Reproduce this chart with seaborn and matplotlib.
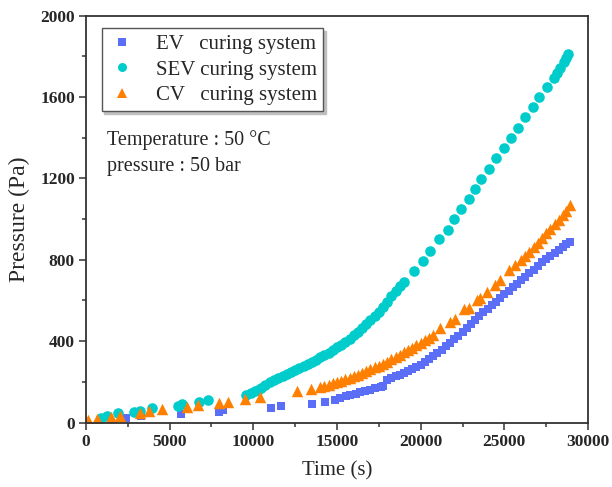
import numpy as np
import pandas as pd
import matplotlib
matplotlib.use('Agg')
import matplotlib.pyplot as plt
import seaborn as sns
from matplotlib.ticker import MultipleLocator
from matplotlib.lines import Line2D

# EV curing system (blue squares)
ev_time = [2410, 3300, 5650, 7970, 8210, 11040, 11630, 13480, 14280, 14870,
           15200, 15510, 15800, 16110, 16400, 16700, 17000, 17300, 17600, 17750,
           18000, 18250, 18500, 18750, 19000, 19250, 19500, 19750, 20000, 20250,
           20500, 20750, 21000, 21250, 21500, 21750, 22000, 22250, 22500, 22750,
           23000, 23250, 23500, 23750, 24000, 24250, 24500, 24750, 25000, 25250,
           25500, 25750, 26000, 26250, 26500, 26750, 27000, 27250, 27500, 27750,
           28000, 28250, 28500, 28700, 28900]
ev_pres = [21, 30, 41, 51, 62, 71, 79, 90, 100, 112,
           120, 128, 134, 141, 148, 155, 162, 170, 177, 181,
           209, 218, 228, 236, 245, 253, 262, 273, 285, 297,
           310, 325, 340, 357, 375, 392, 410, 427, 445, 465,
           485, 505, 525, 542, 560, 577, 595, 612, 630, 647,
           665, 682, 700, 717, 735, 752, 770, 787, 805, 820,
           835, 850, 865, 876, 888]

# SEV curing system (cyan circles)
sev_time = [920, 1250, 1910, 2840, 3200, 3940, 5490, 5730, 6740, 7280,
            9570, 9860, 10100, 10260, 10450, 10700, 11000, 11250, 11500, 11750,
            12000, 12250, 12500, 12750, 13000, 13250, 13500, 13750, 14000, 14250,
            14500, 14750, 15000, 15250, 15500, 15750, 16000, 16250, 16500, 16750,
            17000, 17250, 17500, 17750, 18000, 18250, 18500, 18750, 19000,
            19620, 20130, 20580, 21100, 21630, 21990, 22410, 22860, 23265, 23620,
            24055, 24515, 24950, 25410, 25790, 26250, 26740, 27080, 27550,
            27970, 28150, 28350, 28550, 28700, 28830]
sev_pres = [21, 33, 46, 51, 59, 69, 79, 90, 102, 112,
            136, 145, 155, 161, 170, 185, 200, 210, 220, 230,
            240, 248, 257, 267, 278, 288, 298, 309, 320, 331,
            343, 355, 370, 383, 397, 412, 428, 445, 463, 482,
            502, 522, 545, 570, 595, 620, 645, 670, 693,
            747, 796, 845, 900, 948, 1000, 1049, 1100, 1147, 1196,
            1247, 1300, 1349, 1398, 1447, 1500, 1551, 1600, 1649,
            1695, 1718, 1745, 1772, 1792, 1810]

# CV curing system (orange triangles)
cv_time = [120, 660, 1510, 2050, 3200, 3760, 4530, 6050, 6720, 7940,
           8470, 9530, 10400, 12630, 13420, 14000,
           14250, 14500, 14750, 15000, 15250, 15500, 15750, 16000, 16250, 16500,
           16750, 17000, 17250, 17500, 17750, 18000, 18250, 18500, 18750, 19000,
           19250, 19500, 19750, 20000, 20250, 20500, 20750,
           21180, 21770, 22070, 22570, 22860, 23370, 23560, 23960, 24460, 24760,
           25250, 25650,
           26000, 26250, 26500, 26750, 27000, 27250, 27500, 27750, 28000, 28250,
           28500, 28700, 28930]
cv_pres = [13, 16, 25, 33, 46, 57, 66, 74, 85, 95,
           103, 115, 124, 153, 164, 174,
           180, 186, 192, 198, 205, 212, 220, 228, 236, 245,
           253, 262, 271, 280, 290, 300, 311, 322, 333, 345,
           356, 368, 380, 393, 405, 418, 432,
           464, 496, 508, 558, 562, 603, 612, 644, 677, 702,
           751, 776,
           800, 817, 840, 862, 885, 907, 930, 952, 975, 997,
           1020, 1042, 1068]

labels = ['EV   curing system', 'SEV curing system', 'CV   curing system']
colors = ['#5a6ef8', '#00cccc', '#ff8000']
markers = ['s', 'o', '^']
sizes = [40, 58, 68]

sns.set_theme(style='white')
plt.rcParams['font.family'] = ['Liberation Serif', 'DejaVu Serif']

fig = plt.figure(figsize=(6.12, 4.87), dpi=100)
ax = fig.add_axes([0.1405, 0.1324, 0.8203, 0.8353])

series = [(ev_time, ev_pres), (sev_time, sev_pres), (cv_time, cv_pres)]
for (t, p), c, m, s in zip(series, colors, markers, sizes):
    sns.scatterplot(x=t, y=p, color=c, marker=m, s=s, linewidth=0, ax=ax)

ax.set_xlim(0, 30000)
ax.set_ylim(0, 2000)
ax.xaxis.set_major_locator(MultipleLocator(5000))
ax.xaxis.set_minor_locator(MultipleLocator(2500))
ax.yaxis.set_major_locator(MultipleLocator(400))
ax.yaxis.set_minor_locator(MultipleLocator(200))
ax.tick_params(which='major', direction='out', length=5, width=1.1,
               color='#333333', labelsize=12.5, pad=3, bottom=True, left=True)
ax.tick_params(which='minor', direction='out', length=3, width=1.1,
               color='#333333', bottom=True, left=True)
for lab in ax.get_xticklabels() + ax.get_yticklabels():
    lab.set_fontweight('bold')

for sp in ax.spines.values():
    sp.set_color('#333333')
    sp.set_linewidth(1.3)

ax.set_xlabel('Time (s)', fontsize=15, labelpad=8)
ax.set_ylabel('Pressure (Pa)', fontsize=17, labelpad=7)

handles = [Line2D([], [], linestyle='none', marker=m, color=c,
                  markersize=np.sqrt(s) * 0.85, markeredgewidth=0)
           for m, c, s in zip(markers, colors, sizes)]
leg = ax.legend(handles, labels, loc='upper left', bbox_to_anchor=(0.031, 0.969),
                borderaxespad=0, fontsize=15, frameon=True, fancybox=False,
                shadow={'color': '0.75', 'alpha': 1}, handlelength=1.4,
                handletextpad=0.9, labelspacing=0.28, borderpad=0.3)
leg.get_frame().set_edgecolor('#555555')
leg.get_frame().set_linewidth(1.0)

ax.text(0.042, 0.718, 'Temperature : 50 \u00b0C\npressure : 50 bar',
        transform=ax.transAxes, va='top', ha='left', fontsize=14.5,
        linespacing=1.45)

fig.savefig('out.png', dpi=100)
